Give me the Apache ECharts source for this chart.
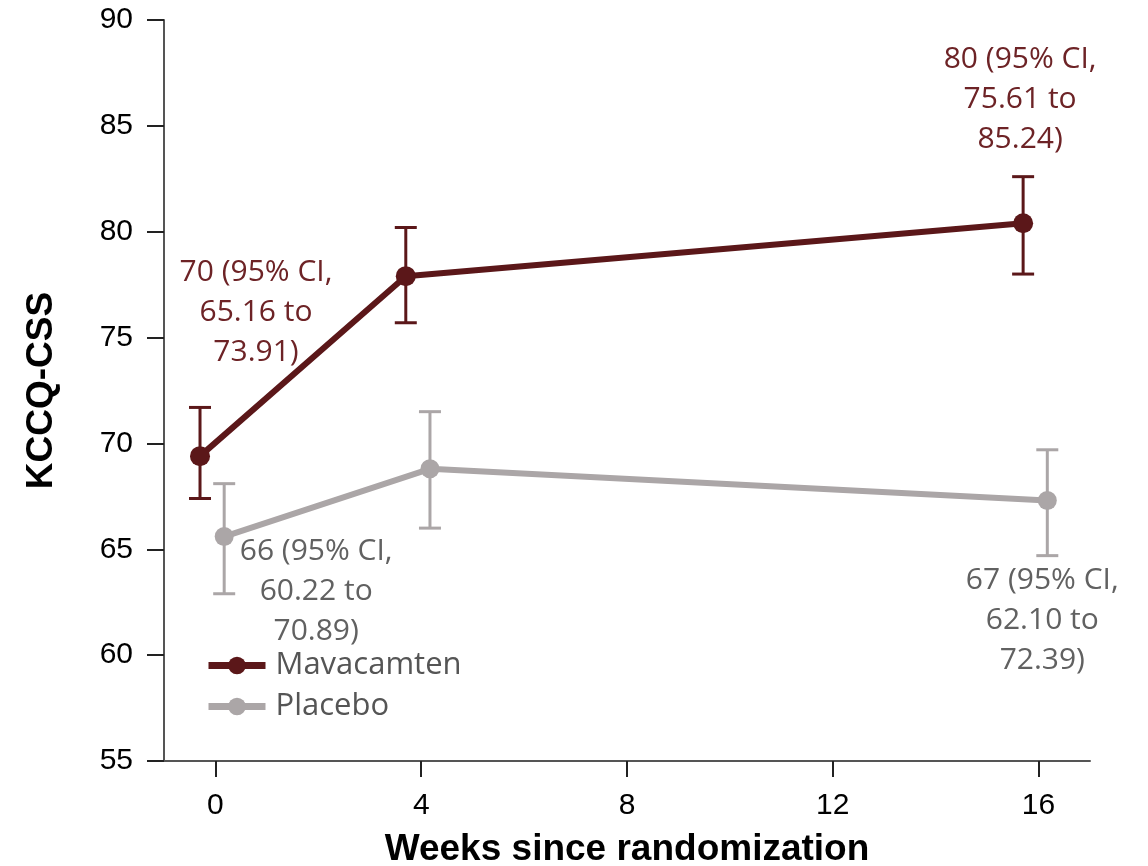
<!DOCTYPE html>
<html>
<head>
<meta charset="utf-8">
<script src="https://cdn.jsdelivr.net/npm/echarts@6/dist/echarts.min.js"></script>
<style>html,body{margin:0;padding:0;background:#fff;}#chart{width:1148px;height:866px;}</style>
</head>
<body>
<div id="chart"></div>
<script>
// ---- data ----
var weeks = [0, 4, 16];
var xTicks = [0, 4, 8, 12, 16];
var mavaMean = [69.4, 77.9, 80.4];
var mavaLo = [67.4, 75.7, 78.0];
var mavaHi = [71.7, 80.2, 82.6];
var placMean = [65.6, 68.8, 67.3];
var placLo = [62.9, 66.0, 64.7];
var placHi = [68.1, 71.5, 69.7];
var mavaLabels = ["70 (95% CI,\n65.16 to\n73.91)", "", "80 (95% CI,\n75.61 to\n85.24)"];
var placLabels = ["66 (95% CI,\n60.22 to\n70.89)", "", "67 (95% CI,\n62.10 to\n72.39)"];
var seriesNames = ["Mavacamten", "Placebo"];

// ---- style ----
var mavaColor = "#5b1719";
var placColor = "#aba6a7";
var mavaText = "#6d2326";
var placText = "#616161";
var mavaDodge = -0.3, placDodge = 0.17;
var mavaOffsets = [[56, -144], [0, 0], [-3, -124]];
var placOffsets = [[92, 55], [0, 0], [-5, 120]];
var annFont = 30;

function lineData(mean, dodge, labels, offsets, textColor) {
  return weeks.map(function (w, i) {
    return {
      value: [w + dodge, mean[i]],
      label: {
        show: labels[i] !== "",
        formatter: labels[i],
        position: "inside",
        offset: offsets[i],
        align: "center",
        verticalAlign: "middle",
        color: textColor,
        fontFamily: "Open Sans",
        fontSize: annFont,
        lineHeight: 40
      }
    };
  });
}
function errData(lo, hi, dodge) {
  return weeks.map(function (w, i) { return [w + dodge, lo[i], hi[i]]; });
}
function errRender(color) {
  return function (params, api) {
    var x = api.value(0);
    var p1 = api.coord([x, api.value(1)]);
    var p2 = api.coord([x, api.value(2)]);
    var hw = 11;
    var st = { stroke: color, lineWidth: 3 };
    return {
      type: "group",
      children: [
        { type: "line", shape: { x1: p1[0], y1: p1[1], x2: p2[0], y2: p2[1] }, style: st },
        { type: "line", shape: { x1: p1[0] - hw, y1: p1[1], x2: p1[0] + hw, y2: p1[1] }, style: st },
        { type: "line", shape: { x1: p2[0] - hw, y1: p2[1], x2: p2[0] + hw, y2: p2[1] }, style: st }
      ]
    };
  };
}

var chart = echarts.init(document.getElementById("chart"));
chart.setOption({
  animation: false,
  backgroundColor: "#fff",
  grid: { left: 164, right: 58, top: 20, bottom: 105, containLabel: false, outerBoundsMode: "none" },
  legend: {
    orient: "vertical",
    left: 205,
    top: 650,
    padding: 0,
    itemWidth: 57,
    itemHeight: 22,
    itemGap: 10,
    data: seriesNames,
    lineStyle: { width: 7 },
    textStyle: { fontFamily: "Open Sans", fontSize: 31, color: "#555", padding: [0, 0, 0, 5] }
  },
  xAxis: {
    type: "value",
    min: -1,
    max: 17,
    name: "Weeks since randomization",
    nameLocation: "middle",
    nameGap: 70,
    nameTextStyle: { fontFamily: "Liberation Sans", fontWeight: "bold", fontSize: 37, color: "#000", verticalAlign: "top" },
    axisLine: { show: true, onZero: false, lineStyle: { color: "#555", width: 2 } },
    axisTick: { show: true, length: 16, customValues: xTicks, lineStyle: { color: "#222", width: 2 } },
    axisLabel: { customValues: xTicks, margin: 30, fontFamily: "Liberation Sans", fontSize: 30, color: "#000" },
    splitLine: { show: false }
  },
  yAxis: {
    type: "value",
    min: 55,
    max: 90,
    interval: 5,
    name: "KCCQ-CSS",
    nameLocation: "middle",
    nameGap: 104,
    nameTextStyle: { fontFamily: "Liberation Sans", fontWeight: "bold", fontSize: 37, color: "#000" },
    axisLine: { show: true, onZero: false, lineStyle: { color: "#555", width: 2 } },
    axisTick: { show: true, length: 17, lineStyle: { color: "#222", width: 2 } },
    axisLabel: { margin: 31, fontFamily: "Liberation Sans", fontSize: 30, color: "#000" },
    splitLine: { show: false }
  },
  series: [
    {
      type: "custom", name: "errP", renderItem: errRender(placColor),
      data: errData(placLo, placHi, placDodge), encode: { x: 0, y: [1, 2] }, z: 1, silent: true
    },
    {
      type: "custom", name: "errM", renderItem: errRender(mavaColor),
      data: errData(mavaLo, mavaHi, mavaDodge), encode: { x: 0, y: [1, 2] }, z: 1, silent: true
    },
    {
      type: "line", name: seriesNames[1], z: 2,
      data: lineData(placMean, placDodge, placLabels, placOffsets, placText),
      symbol: "circle", symbolSize: 19,
      itemStyle: { color: placColor },
      lineStyle: { color: placColor, width: 6 }
    },
    {
      type: "line", name: seriesNames[0], z: 3,
      data: lineData(mavaMean, mavaDodge, mavaLabels, mavaOffsets, mavaText),
      symbol: "circle", symbolSize: 20,
      itemStyle: { color: mavaColor },
      lineStyle: { color: mavaColor, width: 6 }
    }
  ]
});
</script>
</body>
</html>
